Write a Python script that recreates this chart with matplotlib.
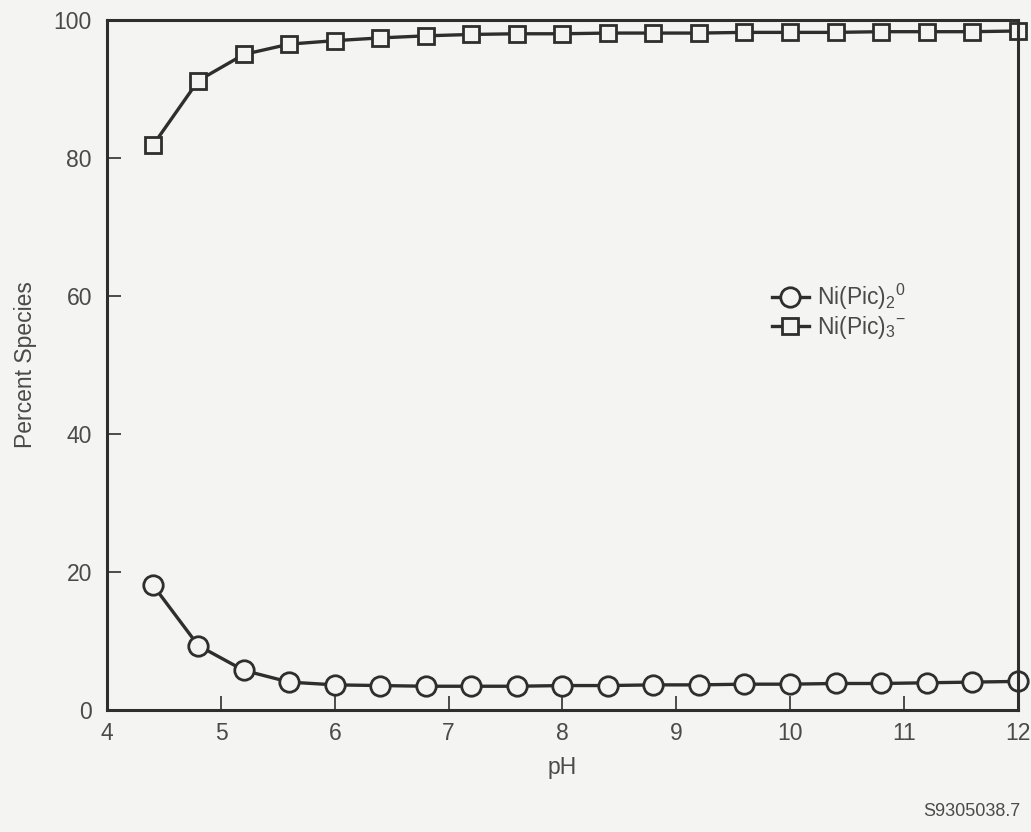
import matplotlib.pyplot as plt
import numpy as np

plt.rcParams['font.family'] = ['Liberation Sans', 'DejaVu Sans']
plt.rcParams['mathtext.fontset'] = 'custom'
plt.rcParams['mathtext.rm'] = 'Liberation Sans'
plt.rcParams['mathtext.it'] = 'Liberation Sans'

# data
ph = [4.4, 4.8, 5.2, 5.6, 6.0, 6.4, 6.8, 7.2, 7.6, 8.0,
      8.4, 8.8, 9.2, 9.6, 10.0, 10.4, 10.8, 11.2, 11.6, 12.0]
ni_pic2 = [18.1, 9.3, 5.7, 4.0, 3.6, 3.5, 3.4, 3.4, 3.4, 3.5,
           3.5, 3.6, 3.6, 3.7, 3.7, 3.8, 3.8, 3.9, 4.0, 4.1]
ni_pic3 = [81.8, 91.2, 95.0, 96.5, 97.0, 97.4, 97.7, 97.9, 98.0, 98.0,
           98.1, 98.1, 98.1, 98.2, 98.2, 98.2, 98.3, 98.3, 98.3, 98.4]
xticks = [4, 5, 6, 7, 8, 9, 10, 11, 12]
yticks = [0, 20, 40, 60, 80, 100]

ink = '#2e2e2e'
txt = '#4a4a4a'
bg = '#f4f4f2'

fig = plt.figure(figsize=(10.31, 8.32), dpi=100, facecolor=bg)
ax = fig.add_axes([0.104, 0.147, 0.883, 0.829], facecolor=bg)

ax.plot(ph, ni_pic2, color=ink, lw=2.4, marker='o', ms=14,
        mfc=bg, mec=ink, mew=2.0, clip_on=False, label=r'Ni(Pic)$_2$$^0$')
ax.plot(ph, ni_pic3, color=ink, lw=2.4, marker='s', ms=12,
        mfc=bg, mec=ink, mew=2.0, clip_on=False, label=r'Ni(Pic)$_3$$^{-}$')

ax.set_xlim(4, 12)
ax.set_ylim(0, 100)
ax.set_xticks(xticks)
ax.set_yticks(yticks)
ax.tick_params(direction='in', length=10, width=1.2, colors=ink,
               labelcolor=txt, labelsize=16.5)
ax.tick_params(axis='x', pad=9)
ax.tick_params(axis='y', pad=11)
for s in ax.spines.values():
    s.set_linewidth(2.2)
    s.set_color(ink)

ax.set_xlabel('pH', fontsize=16.5, color=txt, labelpad=8)
ax.set_ylabel('Percent Species', fontsize=16.5, color=txt, labelpad=12)

leg = ax.legend(loc='center right', bbox_to_anchor=(0.89, 0.577), frameon=False,
                fontsize=16.5, labelcolor=txt, handlelength=1.6,
                handletextpad=0.35, labelspacing=0.1, borderpad=0)

fig.text(0.99, 0.015, 'S9305038.7', fontsize=13, color=txt, ha='right', va='bottom')

fig.savefig('out.png', dpi=100, facecolor=bg)
